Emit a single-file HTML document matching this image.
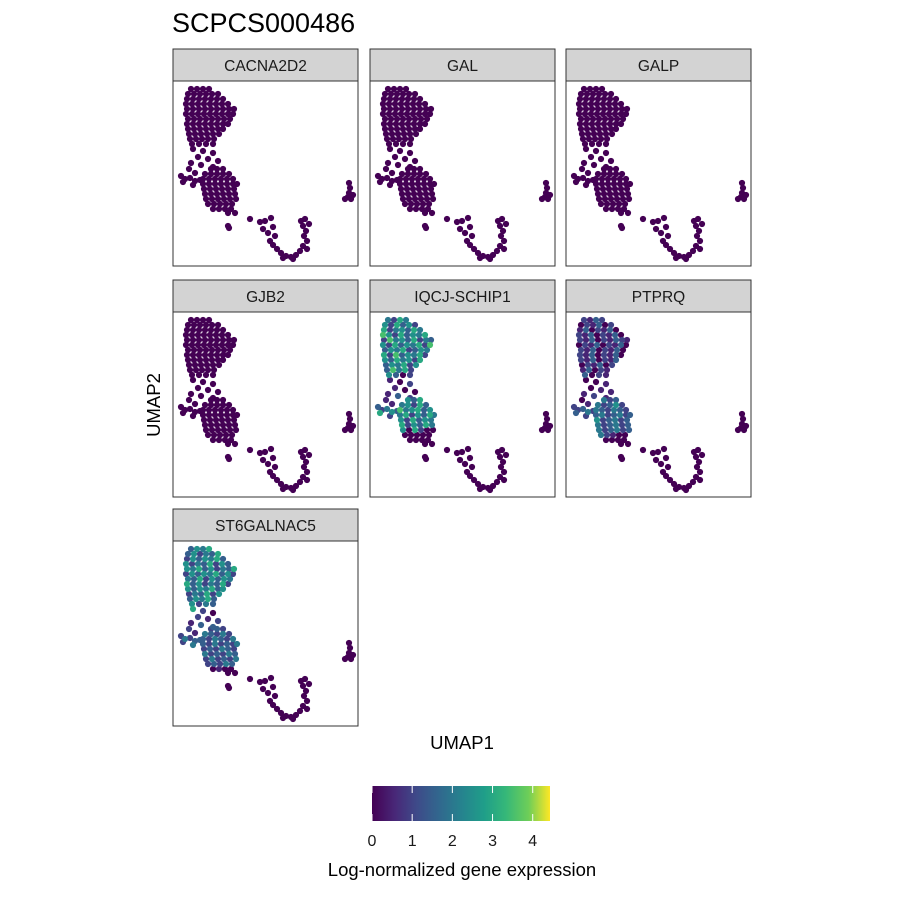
<!DOCTYPE html>
<html><head><meta charset="utf-8"><style>
body{margin:0;background:#fff;}
svg text{font-family:"Liberation Sans",Arial,sans-serif;}
</style></head><body>
<svg id="chart" width="900" height="900" xmlns="http://www.w3.org/2000/svg">
<defs>
<linearGradient id="vir" x1="0" x2="1" y1="0" y2="0">
<stop offset="0" stop-color="#440154"/><stop offset="0.13" stop-color="#482878"/><stop offset="0.25" stop-color="#3e4a89"/><stop offset="0.38" stop-color="#31688e"/><stop offset="0.5" stop-color="#26828e"/><stop offset="0.63" stop-color="#1f9e89"/><stop offset="0.75" stop-color="#35b779"/><stop offset="0.88" stop-color="#6ece58"/><stop offset="1" stop-color="#fde725"/>
</linearGradient>
</defs>
<text x="172" y="32" font-size="27" fill="#000">SCPCS000486</text>
<text transform="translate(160,405) rotate(-90)" text-anchor="middle" font-size="18.5">UMAP2</text>
<text x="462" y="749" text-anchor="middle" font-size="18.5">UMAP1</text>
<g id="panels"></g>
<g>
<rect x="372" y="786" width="178" height="35" fill="url(#vir)"/>
<g id="cbticks"></g>
<text x="462" y="876" text-anchor="middle" font-size="18.5">Log-normalized gene expression</text>
</g>
</svg>
<script>
const genes = ["CACNA2D2","GAL","GALP","GJB2","IQCJ-SCHIP1","PTPRQ","ST6GALNAC5"];
const cellPoints = "18,8 24,8 30,8 36,8 15,13 21,13 27,13 33,13 39,13 45,13 14,18 20,18 26,18 32,18 38,18 44,18 50,18 13,23 19,23 25,23 31,23 37,23 43,23 49,23 55,23 14,28 20,28 26,28 32,28 38,28 44,28 50,28 56,28 61,28 13,33 19,33 25,33 31,33 37,33 43,33 49,33 55,33 60,33 15,38 21,38 27,38 33,38 39,38 45,38 51,38 57,38 14,43 20,43 26,43 32,43 38,43 44,43 50,43 55,43 15,48 21,48 27,48 33,48 39,48 45,48 50,48 16,53 22,53 28,53 34,53 40,53 46,53 17,58 23,58 29,58 35,58 41,58 19,63 26,63 33,63 40,63 20,68 30,70 40,72 25,76 35,78 45,80 18,82 28,84 40,86 16,88 22,92 8,95 12,98 17,97 22,100 27,99 10,101 20,104 38,88 44,88 50,88 32,93 38,93 44,93 50,93 56,93 30,98 36,98 42,98 48,98 54,98 60,98 30,103 36,103 42,103 48,103 54,103 60,103 64,103 31,108 37,108 43,108 49,108 55,108 61,108 32,113 38,113 44,113 50,113 56,113 62,113 33,118 39,118 45,118 51,118 57,118 63,118 35,123 41,123 47,123 53,123 59,123 40,128 46,128 52,128 58,128 55,132 62,132 55,145 56,147 77,138 87,141 92,140 98,137 90,148 95,152 100,146 102,155 97,160 100,164 104,168 108,172 113,175 118,176 123,174 127,170 110,177 120,178 128,140 130,145 133,150 131,155 134,160 130,165 134,168 136,143 132,138 176,102 177,107 176,112 175,116 172,118 178,118 180,114";
// expression per cell, digit = value*2
const exprIQCJ  = "426452635262453647526354627453624352635462735462354627354625364526354625374625302102100132113245362536452637456354625364526354625364506200000000000000000000000000000000";
const exprPTPRQ = "213202130213021302130213021302132102130213021302130213021302130213021302130213021001011121012234232423423524324323423423523423423423423423421000000000000000000000000000000000";
const exprST6   = "354635243625354635243625354635243625354635243625354635243625354635243625354635243620212133212423324232432423243243242324232432423243242324232430100000000000000000000000000000000";
const exprZero  = "";
const geneExpr = [exprZero, exprZero, exprZero, exprZero, exprIQCJ, exprPTPRQ, exprST6];
const cbTicks = [0,1,2,3,4];
const cbMax = 4.43;

const NS="http://www.w3.org/2000/svg";
const panelX=[173,370,566], panelW=185;
const rowStrip=[49,280,509], stripH=32, panelH=185;
const umapDomain=[0,185];
function xs(v,x0){return x0+(v-umapDomain[0])/(umapDomain[1]-umapDomain[0])*panelW;}
function ys(v,y0){return y0+(v-umapDomain[0])/(umapDomain[1]-umapDomain[0])*panelH;}
const vir=[[68,1,84],[72,40,120],[62,74,137],[49,104,142],[38,130,142],[31,158,137],[53,183,121],[110,206,88],[253,231,37]];
function viridis(t){t=Math.max(0,Math.min(1,t));const f=t*(vir.length-1);const i=Math.min(vir.length-2,Math.floor(f));const r=f-i;const c=vir[i].map((a,k)=>Math.round(a+(vir[i+1][k]-a)*r));return `rgb(${c[0]},${c[1]},${c[2]})`;}
const pts=cellPoints.split(" ").map(s=>s.split(",").map(Number));
const pg=document.getElementById("panels");
genes.forEach((g,gi)=>{
  const col=gi%3,row=Math.floor(gi/3);
  const x0=panelX[col], sy=rowStrip[row], y0=sy+stripH;
  const grp=document.createElementNS(NS,"g");
  
  
  const st=document.createElementNS(NS,"rect");
  st.setAttribute("x",x0);st.setAttribute("y",sy);st.setAttribute("width",panelW);st.setAttribute("height",stripH);
  st.setAttribute("fill","#d3d3d3");st.setAttribute("stroke","#333");st.setAttribute("stroke-width","1");
  
  
  grp.appendChild(st);
  const tx=document.createElementNS(NS,"text");
  tx.setAttribute("x",x0+panelW/2);tx.setAttribute("y",sy+22);tx.setAttribute("text-anchor","middle");tx.setAttribute("font-size","15.5");tx.setAttribute("fill","#1a1a1a");
  tx.textContent=g;
  
  
  grp.appendChild(tx);
  const bd=document.createElementNS(NS,"rect");
  bd.setAttribute("x",x0);bd.setAttribute("y",y0);bd.setAttribute("width",panelW);bd.setAttribute("height",panelH);
  bd.setAttribute("fill","#fff");bd.setAttribute("stroke","#333");bd.setAttribute("stroke-width","1");
  
  
  grp.appendChild(bd);
  const ex=geneExpr[gi];
  const order=pts.map((p,i)=>i).sort((a,b)=>(+(ex[a]||0))-(+(ex[b]||0)));
  order.forEach(i=>{
    const p=pts[i];const v=(+(ex[i]||0))/2;
    const c=document.createElementNS(NS,"circle");
    c.setAttribute("cx",xs(p[0],x0).toFixed(1));c.setAttribute("cy",ys(p[1],y0).toFixed(1));c.setAttribute("r","3.1");
    c.setAttribute("fill",viridis(v/cbMax));
    
    
    grp.appendChild(c);
  });
  pg.appendChild(grp);
});
const tg=document.getElementById("cbticks");
const cbX0=372,cbW=178;
function cbx(v){return cbX0+v/cbMax*cbW;}
cbTicks.forEach(t=>{
  const x=cbx(t);
  [[786,793],[814,821]].forEach(([a,b])=>{
    const l=document.createElementNS(NS,"line");
    l.setAttribute("x1",x);l.setAttribute("x2",x);l.setAttribute("y1",a);l.setAttribute("y2",b);l.setAttribute("stroke","#fff");l.setAttribute("stroke-width","1");
    
    
    tg.appendChild(l);
  });
  const tx=document.createElementNS(NS,"text");
  tx.setAttribute("x",x);tx.setAttribute("y",846);tx.setAttribute("text-anchor","middle");tx.setAttribute("font-size","16");tx.setAttribute("fill","#1a1a1a");
  tx.textContent=t;
  
  
  tg.appendChild(tx);
});
</script>
</body></html>
